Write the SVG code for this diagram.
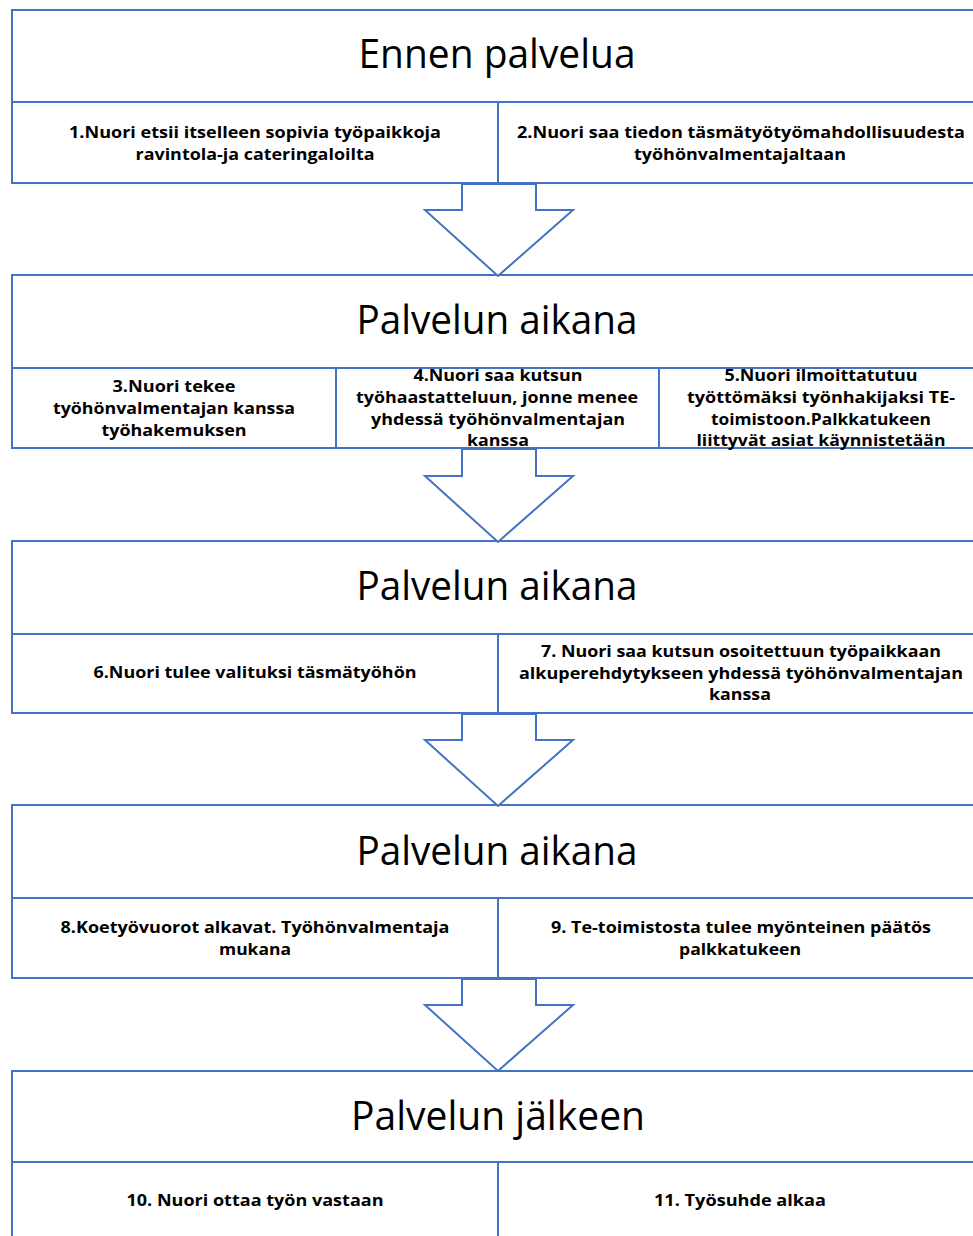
<svg xmlns="http://www.w3.org/2000/svg" width="973" height="1236" viewBox="0 0 973 1236">
<style>
.box{fill:#fff;stroke:#4472C4;stroke-width:2}
.arr{fill:#fff;stroke:#4472C4;stroke-width:2;stroke-linejoin:miter}
.h{font-family:"Open Sans","Liberation Sans",sans-serif;font-size:40px;fill:#000;text-anchor:middle}
.t{font-family:"Open Sans","Liberation Sans",sans-serif;font-size:16.5px;font-weight:bold;fill:#000;text-anchor:middle}
</style>
<rect width="973" height="1236" fill="#fff"/>
<g id="sec1">
<rect class="box" x="12" y="10" width="975" height="92"/>
<text class="h" x="497" y="68" textLength="277" lengthAdjust="spacingAndGlyphs">Ennen palvelua</text>
</g>
<g id="n1">
<rect class="box" x="12" y="102" width="486" height="81"/>
<text class="t" x="255" y="138" textLength="372" lengthAdjust="spacingAndGlyphs">1.Nuori etsii itselleen sopivia työpaikkoja</text>
<text class="t" x="255" y="160" textLength="239" lengthAdjust="spacingAndGlyphs">ravintola-ja cateringaloilta</text>
</g>
<g id="n2">
<rect class="box" x="498" y="102" width="489" height="81"/>
<text class="t" x="741" y="138" textLength="448" lengthAdjust="spacingAndGlyphs">2.Nuori saa tiedon täsmätyötyömahdollisuudesta</text>
<text class="t" x="740" y="160" textLength="212" lengthAdjust="spacingAndGlyphs">työhönvalmentajaltaan</text>
</g>
<g id="sec2">
<rect class="box" x="12" y="275" width="975" height="93"/>
<text class="h" x="497" y="334" textLength="281" lengthAdjust="spacingAndGlyphs">Palvelun aikana</text>
</g>
<g id="n3">
<rect class="box" x="12" y="368" width="324" height="80"/>
<text class="t" x="174" y="392" textLength="123" lengthAdjust="spacingAndGlyphs">3.Nuori tekee</text>
<text class="t" x="174" y="414" textLength="242" lengthAdjust="spacingAndGlyphs">työhönvalmentajan kanssa</text>
<text class="t" x="174" y="436" textLength="145" lengthAdjust="spacingAndGlyphs">työhakemuksen</text>
</g>
<g id="n4">
<rect class="box" x="336" y="368" width="323" height="80"/>
<text class="t" x="498" y="381" textLength="169" lengthAdjust="spacingAndGlyphs">4.Nuori saa kutsun</text>
<text class="t" x="497" y="403" textLength="282" lengthAdjust="spacingAndGlyphs">työhaastatteluun, jonne menee</text>
<text class="t" x="498" y="425" textLength="254" lengthAdjust="spacingAndGlyphs">yhdessä työhönvalmentajan</text>
<text class="t" x="498" y="446" textLength="62" lengthAdjust="spacingAndGlyphs">kanssa</text>
</g>
<g id="n5">
<rect class="box" x="659" y="368" width="328" height="80"/>
<text class="t" x="821" y="381" textLength="193" lengthAdjust="spacingAndGlyphs">5.Nuori ilmoittatutuu</text>
<text class="t" x="821" y="403" textLength="268" lengthAdjust="spacingAndGlyphs">työttömäksi työnhakijaksi TE-</text>
<text class="t" x="821" y="425" textLength="220" lengthAdjust="spacingAndGlyphs">toimistoon.Palkkatukeen</text>
<text class="t" x="821" y="446" textLength="249" lengthAdjust="spacingAndGlyphs">liittyvät asiat käynnistetään</text>
</g>
<g id="sec3">
<rect class="box" x="12" y="541" width="975" height="93"/>
<text class="h" x="497" y="600" textLength="281" lengthAdjust="spacingAndGlyphs">Palvelun aikana</text>
</g>
<g id="n6">
<rect class="box" x="12" y="634" width="486" height="79"/>
<text class="t" x="255" y="678" textLength="323" lengthAdjust="spacingAndGlyphs">6.Nuori tulee valituksi täsmätyöhön</text>
</g>
<g id="n7">
<rect class="box" x="498" y="634" width="489" height="79"/>
<text class="t" x="741" y="657" textLength="400" lengthAdjust="spacingAndGlyphs">7. Nuori saa kutsun osoitettuun työpaikkaan</text>
<text class="t" x="741" y="679" textLength="444" lengthAdjust="spacingAndGlyphs">alkuperehdytykseen yhdessä työhönvalmentajan</text>
<text class="t" x="740" y="700" textLength="62" lengthAdjust="spacingAndGlyphs">kanssa</text>
</g>
<g id="sec4">
<rect class="box" x="12" y="805" width="975" height="93"/>
<text class="h" x="497" y="865" textLength="281" lengthAdjust="spacingAndGlyphs">Palvelun aikana</text>
</g>
<g id="n8">
<rect class="box" x="12" y="898" width="486" height="80"/>
<text class="t" x="255" y="933" textLength="389" lengthAdjust="spacingAndGlyphs">8.Koetyövuorot alkavat. Työhönvalmentaja</text>
<text class="t" x="255" y="955" textLength="72" lengthAdjust="spacingAndGlyphs">mukana</text>
</g>
<g id="n9">
<rect class="box" x="498" y="898" width="489" height="80"/>
<text class="t" x="741" y="933" textLength="380" lengthAdjust="spacingAndGlyphs">9. Te-toimistosta tulee myönteinen päätös</text>
<text class="t" x="740" y="955" textLength="122" lengthAdjust="spacingAndGlyphs">palkkatukeen</text>
</g>
<g id="sec5">
<rect class="box" x="12" y="1071" width="975" height="91"/>
<text class="h" x="498" y="1130" textLength="294" lengthAdjust="spacingAndGlyphs">Palvelun jälkeen</text>
</g>
<g id="n10">
<rect class="box" x="12" y="1162" width="486" height="90"/>
<text class="t" x="255" y="1206" textLength="257" lengthAdjust="spacingAndGlyphs">10. Nuori ottaa työn vastaan</text>
</g>
<g id="n11">
<rect class="box" x="498" y="1162" width="489" height="90"/>
<text class="t" x="740" y="1206" textLength="172" lengthAdjust="spacingAndGlyphs">11. Työsuhde alkaa</text>
</g>
<g id="connectors">
<polygon class="arr" points="462,184 462,210 425,210 498,276 573,210 536,210 536,184"/>
<polygon class="arr" points="462,449 462,476 425,476 498,542 573,476 536,476 536,449"/>
<polygon class="arr" points="462,714 462,740 425,740 498,806 573,740 536,740 536,714"/>
<polygon class="arr" points="462,979 462,1005 425,1005 498,1071 573,1005 536,1005 536,979"/>
</g>
</svg>
